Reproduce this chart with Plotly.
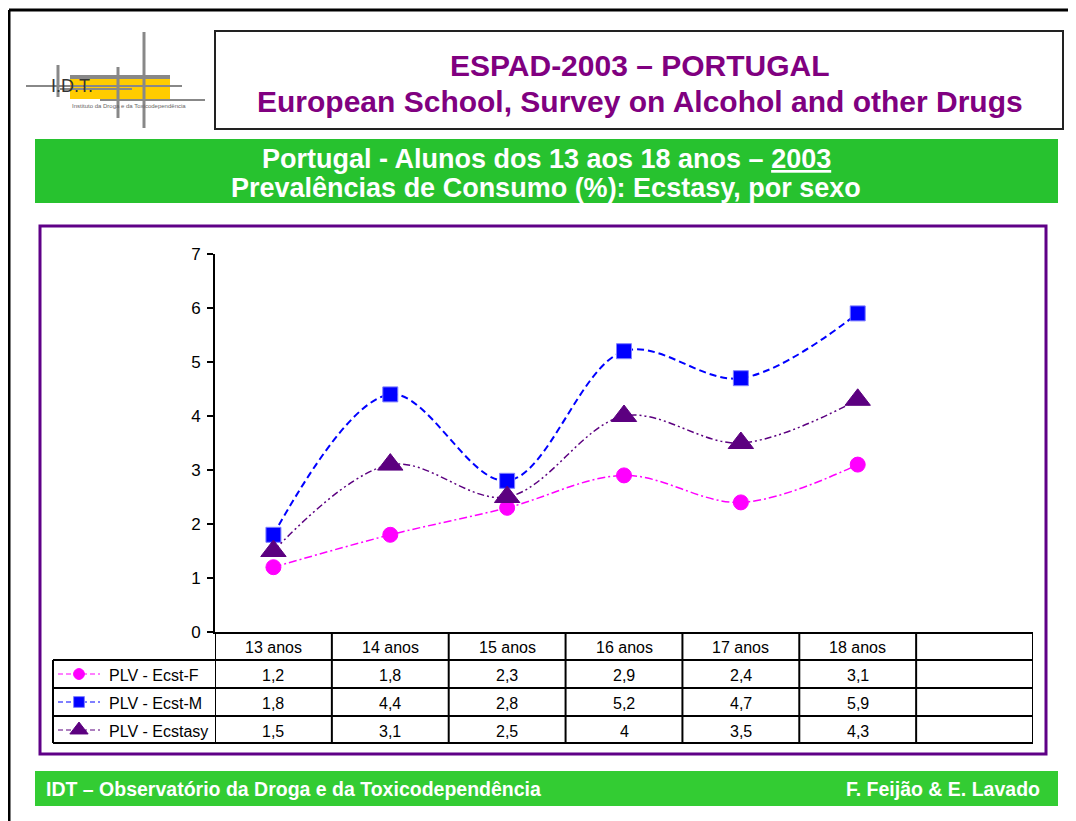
import plotly.graph_objects as go

# ---------------- data ----------------
categories = ["13 anos", "14 anos", "15 anos", "16 anos", "17 anos", "18 anos"]
series_names = ["PLV - Ecst-F", "PLV - Ecst-M", "PLV - Ecstasy"]
ecst_f = [1.2, 1.8, 2.3, 2.9, 2.4, 3.1]
ecst_m = [1.8, 4.4, 2.8, 5.2, 4.7, 5.9]
ecstasy = [1.5, 3.1, 2.5, 4.0, 3.5, 4.3]
y_ticks = [0, 1, 2, 3, 4, 5, 6, 7]

W, H = 1076, 821
OFF = 8  # page body margin compensation
FONT = "Arial, Liberation Sans, sans-serif"
PURPLE_T = "#800080"
GREEN = "#27C22F"
GREEN2 = "#33CC33"
FRAME = "#5F0087"


def X(px):
    return (px - OFF) / W


def Y(py):
    return 1 - (py - OFF) / H


def fmt(v):
    return ("%g" % v).replace(".", ",")


def txt(x, y, text, size, color, xanchor="center", xref="paper"):
    return dict(xref=xref, yref="paper", x=x, y=y, text=text, showarrow=False,
                xanchor=xanchor, yanchor="middle",
                font=dict(family=FONT, size=size, color=color))


styles = [
    dict(color="#FF00FF", dash="8px,3px,2px,3px", width=1.5, symbol="circle", msize=15, mline="#FF00FF"),
    dict(color="#0000FF", dash="7px,4px", width=2, symbol="square", msize=15, mline="#8080FF"),
    dict(color="#5C0080", dash="7px,3px,2px,3px,2px,3px", width=1.5, symbol="triangle-up", msize=22, mline="#5C0080"),
]
series = [ecst_f, ecst_m, ecstasy]

fig = go.Figure()
xs = list(range(len(categories)))
for name, vals, st in zip(series_names, series, styles):
    fig.add_trace(go.Scatter(
        x=xs, y=vals, mode="lines+markers", name=name,
        line=dict(color=st["color"], dash=st["dash"], width=st["width"], shape="spline", smoothing=1.0),
        marker=dict(symbol=st["symbol"], size=st["msize"], color=st["color"],
                    line=dict(color=st["mline"], width=1)),
        showlegend=False, hoverinfo="skip", xaxis="x", yaxis="y",
    ))

# legend keys inside the table (full-page pixel axes)
row_y = [674, 702, 730]
for st, ry in zip(styles, row_y):
    fig.add_trace(go.Scatter(
        x=[58 - OFF, 79 - OFF, 100 - OFF], y=[ry - OFF] * 3, mode="lines", xaxis="x2", yaxis="y2",
        line=dict(color=st["color"], dash="5px,3px", width=1.2), showlegend=False, hoverinfo="skip"))
    fig.add_trace(go.Scatter(
        x=[79 - OFF], y=[ry - OFF], mode="markers", xaxis="x2", yaxis="y2",
        marker=dict(symbol=st["symbol"], size=st["msize"] * 0.72, color=st["color"],
                    line=dict(color=st["mline"], width=1)),
        showlegend=False, hoverinfo="skip"))

shapes = []
annotations = []

# outer black border
shapes.append(dict(type="line", xref="paper", yref="paper", x0=X(9), x1=X(9), y0=Y(10), y1=Y(840),
                   line=dict(color="black", width=3)))
shapes.append(dict(type="line", xref="paper", yref="paper", x0=X(9), x1=X(1090), y0=Y(10), y1=Y(10),
                   line=dict(color="black", width=3)))

# title box
shapes.append(dict(type="rect", xref="paper", yref="paper", x0=X(215), x1=X(1063), y0=Y(31), y1=Y(129),
                   line=dict(color="#222222", width=2), fillcolor="rgba(0,0,0,0)"))
annotations.append(txt(X(640), Y(66), "<b>ESPAD-2003 – PORTUGAL</b>", 30, PURPLE_T))
annotations.append(txt(X(640), Y(102), "<b>European School, Survey on Alcohol and other Drugs</b>", 30, PURPLE_T))

# green band
shapes.append(dict(type="rect", xref="paper", yref="paper", x0=X(35), x1=X(1058), y0=Y(139), y1=Y(203),
                   line=dict(width=0), fillcolor=GREEN, layer="below"))
annotations.append(txt(X(546), Y(159), "<b>Portugal - Alunos dos 13 aos 18 anos – <u>2003</u></b>", 27, "white"))
annotations.append(txt(X(546), Y(188), "<b>Prevalências de Consumo (%): Ecstasy, por sexo</b>", 27, "white"))

# purple chart frame
shapes.append(dict(type="rect", xref="paper", yref="paper", x0=X(40), x1=X(1046), y0=Y(226), y1=Y(754),
                   line=dict(color=FRAME, width=3), layer="below"))

# footer
shapes.append(dict(type="rect", xref="paper", yref="paper", x0=X(35), x1=X(1058), y0=Y(771), y1=Y(806),
                   line=dict(width=0), fillcolor=GREEN2, layer="below"))
annotations.append(txt(X(44), Y(789), "<b>IDT – Observatório da Droga e da Toxicodependência</b>", 19.5, "white",
                       xanchor="left"))
annotations.append(txt(X(1042), Y(789), "<b>F. Feijão &amp; E. Lavado</b>", 19.5, "white", xanchor="right"))

# logo
shapes.append(dict(type="rect", xref="paper", yref="paper", x0=X(70), x1=X(170), y0=Y(76), y1=Y(99),
                   line=dict(width=0), fillcolor="#FFCC00"))
GR = "#888888"
for (x0, y0, x1, y1, w) in [(70, 77, 170, 77, 4), (26, 86, 182, 86, 2), (60, 89, 132, 89, 2),
                            (100, 100, 205, 100, 2), (58, 65, 58, 97, 3), (118, 67, 118, 118, 3),
                            (144, 32, 144, 128, 3)]:
    shapes.append(dict(type="line", xref="paper", yref="paper", x0=X(x0), x1=X(x1), y0=Y(y0), y1=Y(y1),
                       line=dict(color=GR, width=w)))
annotations.append(txt(X(49), Y(86), "I.D.T.", 18, "#333333", xanchor="left"))
annotations.append(txt(X(70), Y(106), "Instituto da Droga e da Toxicodependência", 6, "#666666", xanchor="left"))

# data table
T_TOP, T_ROWS = 632, [660, 688, 716, 743]
LEFT_T, RIGHT_T = 53, 1033
ncol = len(categories) + 1
for i in range(ncol + 1):
    shapes.append(dict(type="line", xref="x", yref="paper", x0=i - 0.5, x1=i - 0.5, y0=Y(T_TOP), y1=Y(T_ROWS[-1]),
                       line=dict(color="black", width=2)))
shapes.append(dict(type="line", xref="paper", yref="paper", x0=X(LEFT_T), x1=X(LEFT_T), y0=Y(T_ROWS[0]),
                   y1=Y(T_ROWS[-1]), line=dict(color="black", width=2)))
for ry in T_ROWS:
    shapes.append(dict(type="line", xref="paper", yref="paper", x0=X(LEFT_T), x1=X(RIGHT_T), y0=Y(ry), y1=Y(ry),
                       line=dict(color="black", width=2)))
for i, c in enumerate(categories):
    annotations.append(txt(i, Y(647), c, 16, "black", xref="x"))
for name, vals, ry in zip(series_names, series, row_y):
    annotations.append(txt(X(107), Y(ry + 1), name, 16, "black", xanchor="left"))
    for i, v in enumerate(vals):
        annotations.append(txt(i, Y(ry + 1), fmt(v), 16, "black", xref="x"))

fig.update_layout(
    width=W, height=H,
    margin=dict(l=0, r=0, t=0, b=0, autoexpand=False),
    paper_bgcolor="white", plot_bgcolor="rgba(0,0,0,0)",
    showlegend=False,
    xaxis=dict(domain=[X(215), X(1033)], range=[-0.5, ncol - 0.5], showticklabels=False, ticks="",
               showgrid=False, zeroline=False, showline=True, linecolor="black", linewidth=2,
               automargin=False, anchor="y"),
    yaxis=dict(domain=[Y(632), Y(254)], range=[0, 7], tickvals=y_ticks, ticks="outside", ticklen=6,
               tickwidth=2, tickcolor="black", showgrid=False, zeroline=False, showline=True,
               linecolor="black", linewidth=2, tickfont=dict(family=FONT, size=17, color="black"),
               ticklabelstandoff=3, automargin=False, anchor="x"),
    xaxis2=dict(domain=[0, 1], range=[0, W], visible=False, anchor="y2", automargin=False),
    yaxis2=dict(domain=[0, 1], range=[H, 0], visible=False, anchor="x2", automargin=False),
    shapes=shapes,
    annotations=annotations,
    font=dict(family=FONT),
)

fig.write_html("out.html")
